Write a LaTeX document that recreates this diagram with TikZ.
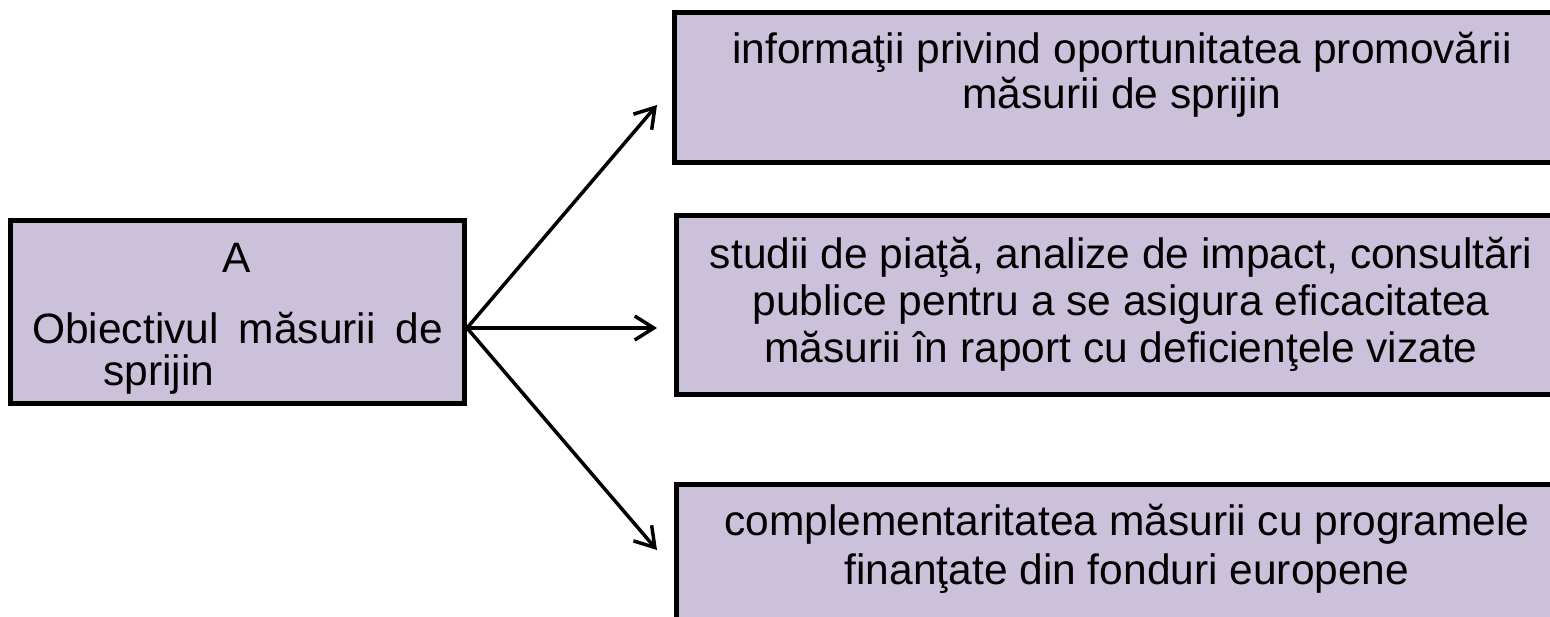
\documentclass[tikz,border=0pt]{standalone}
\usepackage{fontspec}
\setmainfont{Liberation Sans}
\usetikzlibrary{arrows.meta}
\definecolor{boxfill}{RGB}{204,193,218}
\begin{document}
\begin{tikzpicture}[x=1pt,y=-1pt,
  boxshape/.style={draw=black,line width=5pt,fill=boxfill},
  lbl/.style={anchor=base,inner sep=0pt,font=\fontsize{42.5}{47}\selectfont},
  conn/.style={line width=3.5pt,-{Straight Barb[length=19pt,width=24pt,line width=3.5pt]}}]
\useasboundingbox (0,0) rectangle (1550,616);
% boxes
\draw[boxshape] (10.5,220.5) rectangle (464.5,403);
\draw[boxshape] (674.5,12.5) rectangle (1571,162.5);
\draw[boxshape] (676,215) rectangle (1571,394);
\draw[boxshape] (676,484) rectangle (1571,660);
% left box text
\node[lbl] (la) at (237,272) {A};
\node[lbl,anchor=base west] (lb) at (32,343) {\hbox to 411pt{Obiectivul\hfil măsurii\hfil de}};
\node[lbl,anchor=base west] (lc) at (103,385) {sprijin};
% top box text
\node[lbl] (t1) at (1122,63) {informaţii privind oportunitatea promovării};
\node[lbl] (t2) at (1122,108) {măsurii de sprijin};
% middle box text
\node[lbl] (m1) at (1121,268) {studii de piaţă, analize de impact, consultări};
\node[lbl] (m2) at (1121,315) {publice pentru a se asigura eficacitatea};
\node[lbl] (m3) at (1121,362) {măsurii în raport cu deficienţele vizate};
% bottom box text
\node[lbl] (b1) at (1127,535) {complementaritatea măsurii cu programele};
\node[lbl] (b2) at (1127,584) {finanţate din fonduri europene};
% connectors
\coordinate (o) at (467,328);
\coordinate (et) at (657,105);
\coordinate (em) at (657,328);
\coordinate (eb) at (657,550);
\draw[conn] (o) -- (et);
\draw[conn] (o) -- (em);
\draw[conn] (o) -- (eb);
\end{tikzpicture}
\end{document}
